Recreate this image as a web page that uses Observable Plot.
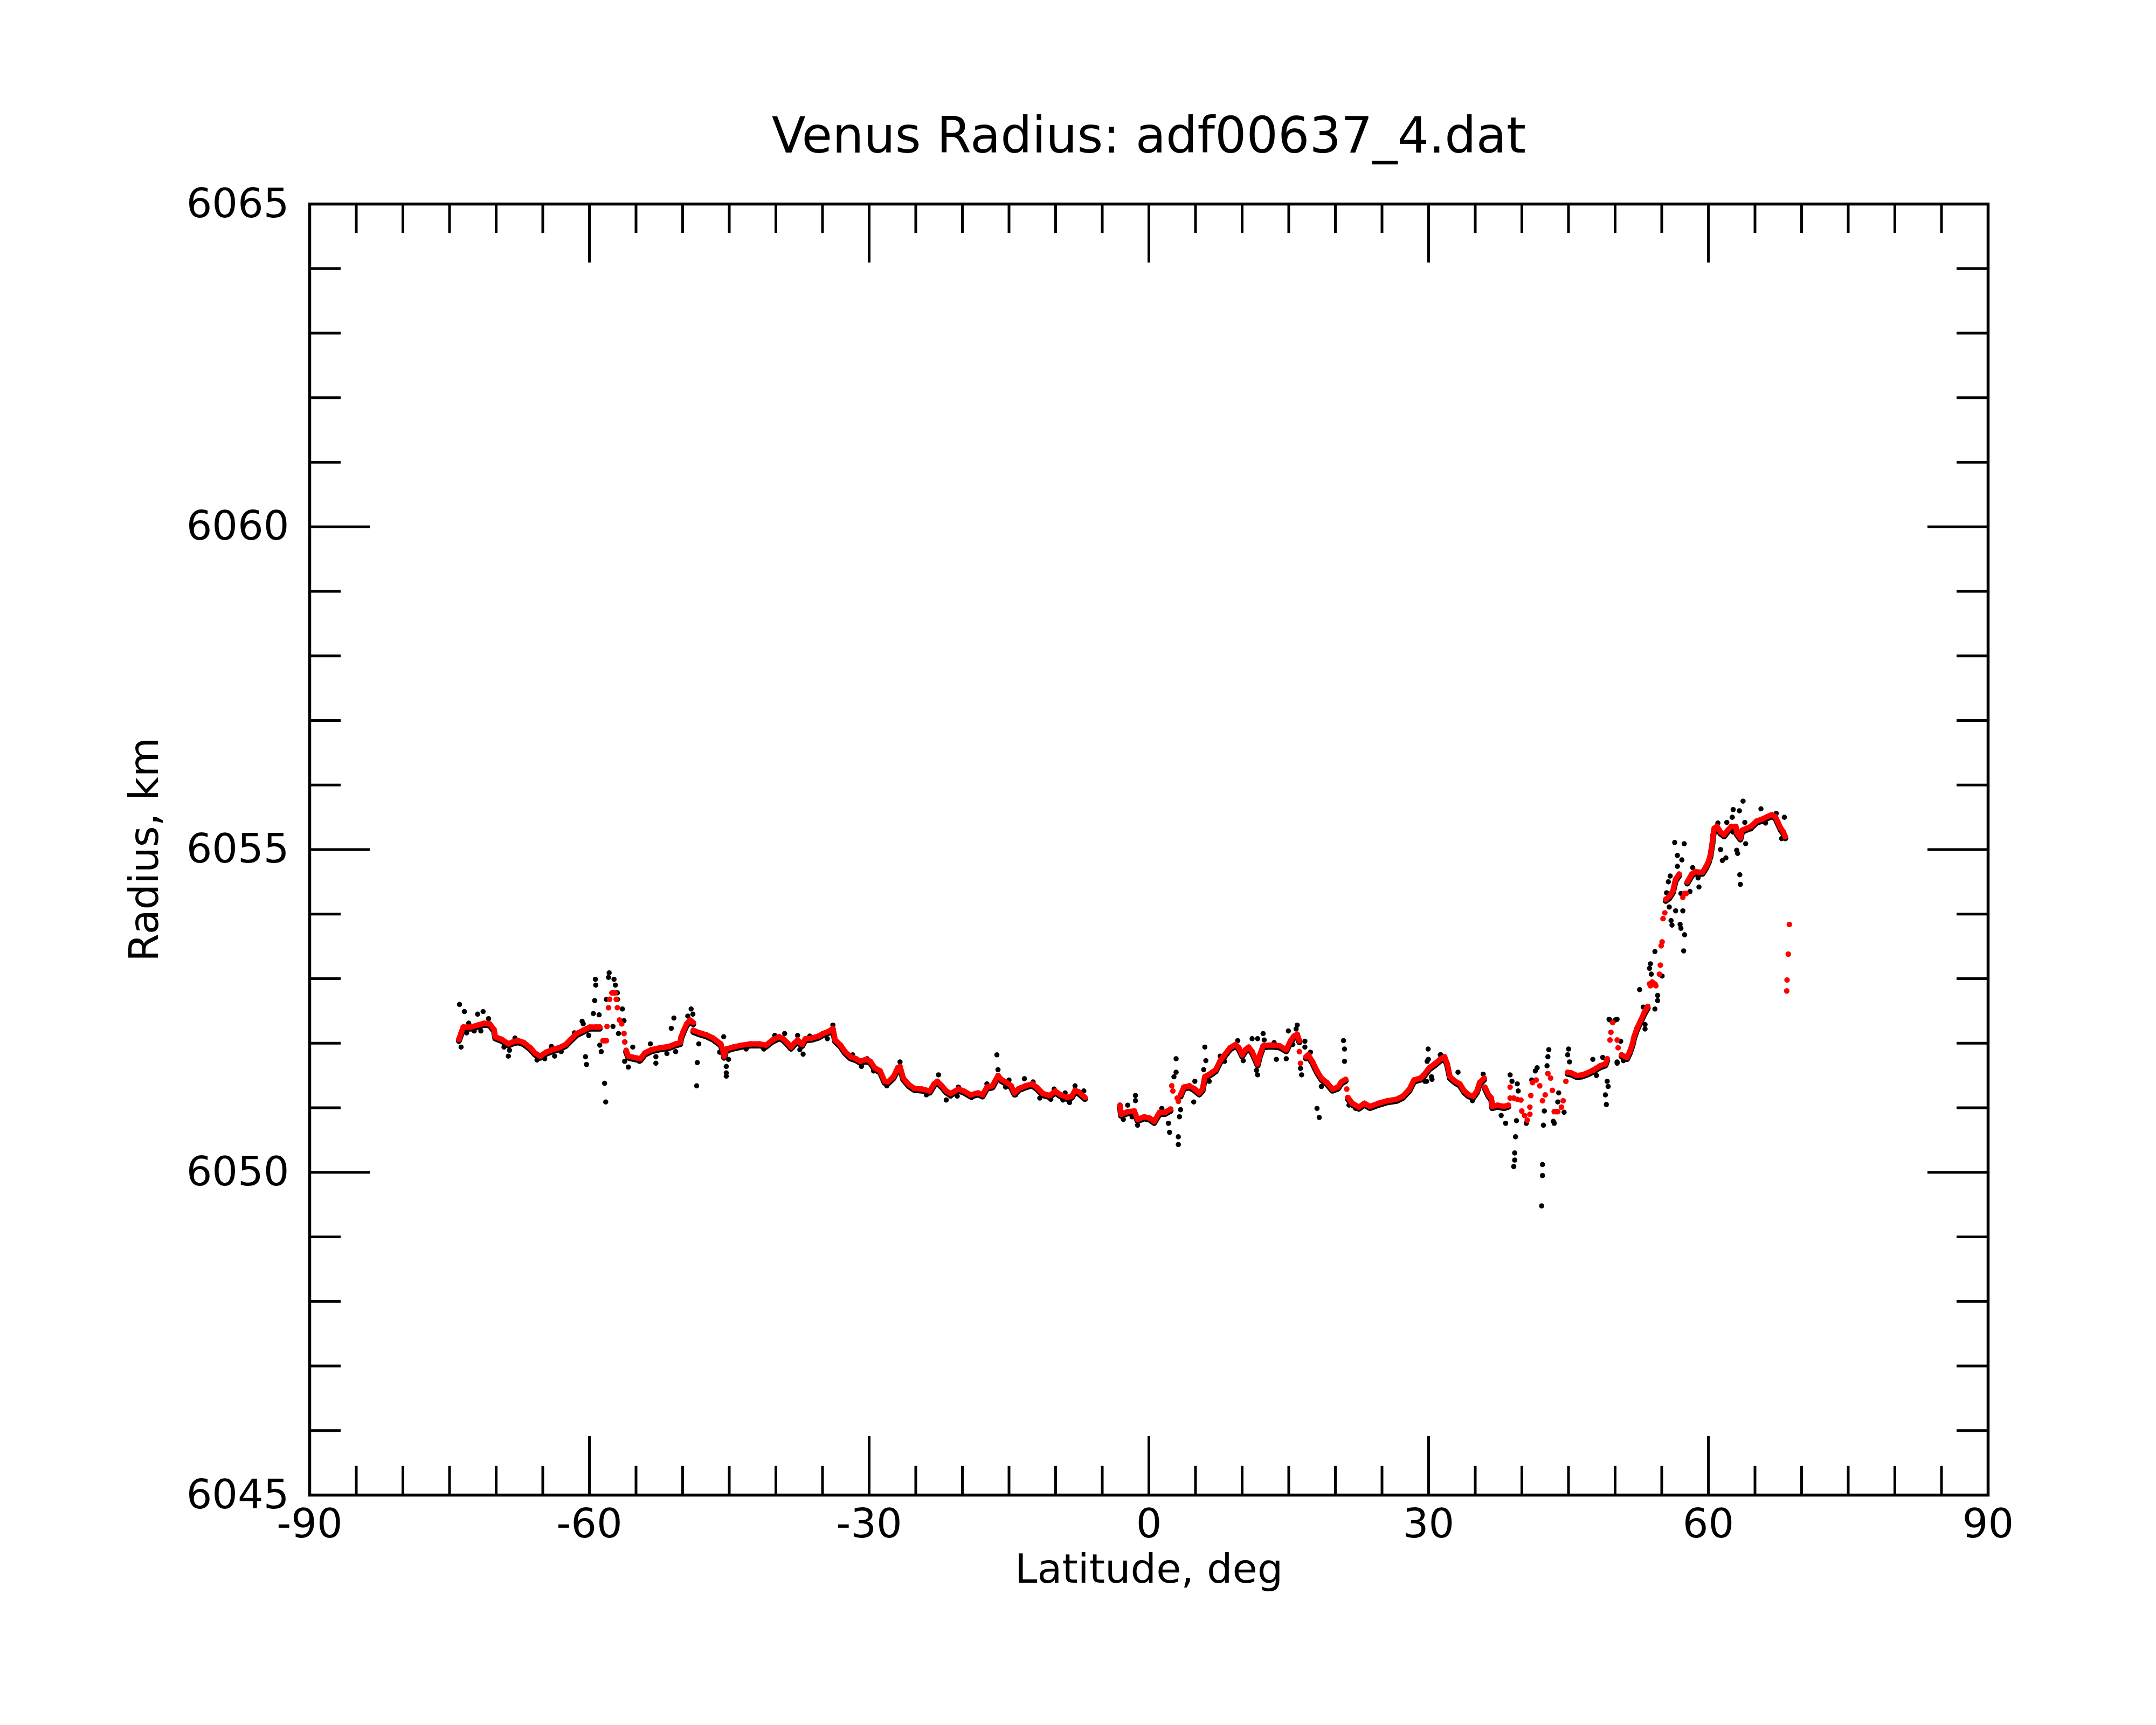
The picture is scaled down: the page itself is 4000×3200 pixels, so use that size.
<!DOCTYPE html>
<html><head><meta charset="utf-8">
<script src="https://cdn.jsdelivr.net/npm/d3@7"></script>
<script src="https://cdn.jsdelivr.net/npm/@observablehq/plot@0.6"></script>
<style>body{margin:0;background:#fff;} #chart svg{display:block;}</style>
</head><body><div id="chart"></div>
<script>
const title = "Venus Radius: adf00637_4.dat";
const xTitle = "Latitude, deg";
const yTitle = "Radius, km";
const xLabels = [-90, -60, -30, 0, 30, 60, 90];
const xMajor = [-60, -30, 0, 30, 60];
const xMinor = [-85,-80,-75,-70,-65,-55,-50,-45,-40,-35,-25,-20,-15,-10,-5,5,10,15,20,25,35,40,45,50,55,65,70,75,80,85];
const yLabels = [6045, 6050, 6055, 6060, 6065];
const yMajor = [6050, 6055, 6060];
const yMinor = [6046,6047,6048,6049,6051,6052,6053,6054,6056,6057,6058,6059,6061,6062,6063,6064];

// smoothed (red) radius: continuous runs, null = break
const redLineLat = [
-74.00,-73.76,-73.53,-72.70,-71.99,-71.28,-70.69,-70.22,-70.10,-69.40,-68.69,-68.22,-67.63,-67.04,-66.33,-65.85,-65.27,-64.67,-63.97,-63.26,-62.55,-62.08,-61.37,-60.66,-59.95,-59.25,-58.89,null,
-56.06,-55.82,-55.23,-54.52,-54.05,-53.34,-52.40,-51.45,-50.75,-50.27,-50.16,-49.92,-49.57,-49.21,-48.86,null,
-48.86,-48.15,-47.44,-46.73,-45.91,-45.67,-45.55,-45.32,-44.61,-43.66,-42.72,-41.77,-41.07,-40.36,-39.65,-39.20,-38.73,-38.38,-38.02,-37.67,-37.20,-36.84,-36.13,-35.42,-34.95,-34.24,-33.89,-33.65,-33.06,-32.59,-32.00,-31.41,-30.94,-30.35,-29.88,-29.40,-28.81,-28.34,-27.99,-27.40,-26.93,-26.69,-26.34,-25.75,-25.16,-24.33,-23.50,-23.03,-22.68,-22.20,-21.73,-21.26,-20.43,-19.84,-19.14,-18.31,-17.84,-17.37,-16.78,-16.18,-15.83,-15.24,-14.77,-14.41,-13.94,-13.23,-12.53,-12.05,-11.35,-10.64,-10.05,-9.46,-8.75,-8.28,-7.92,-7.57,-6.86,null,
-3.10,-2.98,-2.27,-1.56,-1.21,-0.50,0.09,0.56,1.15,1.74,2.33,null,
3.40,3.75,4.34,4.93,5.40,5.76,6.00,6.70,7.17,7.65,8.12,8.71,9.30,9.65,10.01,10.36,10.71,11.07,11.42,11.66,11.90,12.25,12.84,13.31,14.02,14.73,15.20,15.55,15.91,16.14,null,
16.85,17.09,17.56,18.03,18.50,19.09,19.69,20.28,20.63,21.10,null,
21.34,21.81,22.52,23.11,23.70,24.64,25.59,26.53,27.24,27.95,28.42,29.13,29.49,30.07,30.65,31.22,31.71,32.00,32.29,32.86,33.35,33.83,34.31,34.79,35.18,35.47,35.95,null,
36.04,36.43,36.72,36.82,37.39,38.07,38.55,null,
44.91,45.30,45.88,46.46,47.03,47.61,48.38,48.96,49.15,null,
50.70,50.80,51.28,51.57,51.86,52.05,52.34,52.73,53.11,53.50,null,
55.43,55.81,56.20,56.49,56.87,null,
57.74,58.22,58.61,58.99,59.38,59.76,60.05,60.25,60.34,60.44,60.53,60.63,60.92,61.31,61.69,62.08,62.46,62.94,63.04,63.43,63.62,64.10,64.58,65.16,65.74,66.32,66.80,67.19,67.47,67.76,68.05,68.25
];
const redLineR = [
6052.06,6052.16,6052.25,6052.25,6052.28,6052.31,6052.30,6052.21,6052.10,6052.06,6051.99,6052.02,6052.04,6052.01,6051.93,6051.85,6051.80,6051.86,6051.90,6051.93,6051.98,6052.05,6052.15,6052.20,6052.25,6052.25,6052.25,null,
6051.89,6051.80,6051.78,6051.76,6051.85,6051.90,6051.93,6051.95,6051.99,6052.01,6052.10,6052.19,6052.30,6052.36,6052.32,null,
6052.20,6052.16,6052.13,6052.08,6051.99,6051.89,6051.80,6051.91,6051.94,6051.97,6051.99,6051.99,6051.97,6052.05,6052.10,6052.07,6052.00,6051.94,6052.00,6052.05,6051.98,6052.07,6052.08,6052.11,6052.15,6052.19,6052.23,6052.05,6051.97,6051.87,6051.79,6051.76,6051.72,6051.75,6051.72,6051.62,6051.57,6051.41,6051.40,6051.48,6051.62,6051.64,6051.46,6051.36,6051.30,6051.29,6051.26,6051.37,6051.41,6051.34,6051.26,6051.22,6051.29,6051.26,6051.20,6051.23,6051.20,6051.32,6051.34,6051.50,6051.44,6051.39,6051.34,6051.23,6051.30,6051.34,6051.37,6051.32,6051.22,6051.19,6051.26,6051.20,6051.16,6051.18,6051.27,6051.25,6051.16,null,
6051.04,6050.90,6050.94,6050.95,6050.82,6050.86,6050.84,6050.79,6050.93,6050.93,6050.98,null,
6051.20,6051.32,6051.34,6051.29,6051.23,6051.29,6051.48,6051.54,6051.59,6051.73,6051.82,6051.93,6051.98,6051.93,6051.82,6051.90,6051.94,6051.87,6051.76,6051.68,6051.82,6051.96,6051.97,6051.97,6051.96,6051.90,6052.04,6052.11,6052.14,6052.04,null,
6051.79,6051.82,6051.71,6051.57,6051.46,6051.39,6051.29,6051.32,6051.40,6051.44,null,
6051.16,6051.07,6051.01,6051.07,6051.02,6051.07,6051.11,6051.13,6051.18,6051.29,6051.43,6051.46,6051.51,6051.62,6051.68,6051.75,6051.79,6051.68,6051.48,6051.41,6051.37,6051.26,6051.20,6051.18,6051.26,6051.39,6051.46,null,
6051.32,6051.20,6051.15,6051.02,6051.04,6051.02,6051.04,null,
6051.55,6051.54,6051.50,6051.51,6051.54,6051.58,6051.65,6051.68,6051.76,null,
6051.82,6051.81,6051.78,6051.87,6051.99,6052.11,6052.23,6052.35,6052.47,6052.57,null,
6054.23,6054.27,6054.36,6054.54,6054.62,null,
6054.50,6054.62,6054.66,6054.65,6054.65,6054.74,6054.83,6054.94,6055.03,6055.12,6055.24,6055.33,6055.36,6055.27,6055.23,6055.30,6055.36,6055.36,6055.26,6055.18,6055.30,6055.33,6055.36,6055.44,6055.47,6055.51,6055.54,6055.51,6055.42,6055.33,6055.27,6055.20
];
// smoothed (red) isolated points
const redSpotLat = [-58.54,-58.36,-58.18,-58.11,-57.95,-57.83,-57.59,-57.41,-57.24,-57.12,-57.00,-56.77,-56.53,-56.29,-56.22,
2.45,2.57,3.04,3.16,16.14,16.26,21.22,
38.74,38.74,39.13,39.51,39.90,39.99,40.29,40.58,40.86,40.86,40.96,41.15,41.54,41.92,42.21,42.50,42.79,43.08,43.27,43.47,43.66,43.85,44.24,44.43,44.72,
49.45,49.55,49.74,50.22,50.32,
53.79,53.69,53.98,54.27,54.37,54.75,54.85,54.94,55.04,55.14,55.33,57.26,57.45,57.64,
68.69,68.57,68.44,68.40];
const redSpotR = [6052.04,6052.04,6052.04,6052.26,6052.55,6052.68,6052.78,6052.78,6052.78,6052.68,6052.55,6052.36,6052.30,6052.15,6052.02,
6051.34,6051.26,6051.15,6051.10,6051.87,6051.69,6051.29,
6051.32,6051.15,6051.15,6051.13,6051.12,6050.95,6050.88,6050.81,6050.90,6051.01,6051.19,6051.39,6051.43,6051.34,6051.11,6051.20,6051.53,6051.46,6051.27,6050.94,6050.94,6050.94,6051.01,6051.11,6051.41,
6052.05,6052.17,6052.32,6052.05,6051.93,
6052.89,6052.92,6052.95,6052.92,6052.89,6053.07,6053.21,6053.51,6053.57,6053.93,6054.02,6054.26,6054.32,6054.32,
6053.84,6053.38,6052.98,6052.81];

// raw (black) measurements
const blackLat = [
-73.93,-73.41,-73.76,-73.17,-72.94,-71.99,-71.40,-70.81,-71.64,-72.35,-69.16,-68.69,-68.57,-67.98,-65.62,-64.79,-64.08,-63.73,-63.02,-61.61,-60.78,-60.07,-60.66,-59.36,-59.32,-59.43,-59.58,-58.96,-60.42,-60.31,-58.37,-58.25,-58.73,-58.89,-57.88,-57.95,-57.36,-57.21,-57.00,-58.18,-56.98,-56.46,-56.29,-57.47,-56.88,-56.18,-56.22,-55.82,-55.35,-54.64,-53.46,-52.87,-52.87,-51.22,-50.94,-51.69,-50.75,-49.09,-48.90,-49.45,-48.27,-48.43,-48.50,-45.60,-45.32,-45.32,-45.32,-45.08,-46.03,-43.19,-41.30,-40.12,-39.06,
-37.08,-37.43,-37.67,-36.37,-34.48,-33.89,-31.77,-30.82,-30.23,-29.52,-28.11,-26.69,-23.86,-22.56,-21.73,-21.26,-20.43,-20.55,-19.02,-17.37,-16.30,-16.18,-15.36,-15.00,-14.30,-13.35,-12.41,-11.70,-10.52,-10.16,-8.98,-9.22,-8.51,-7.92,-6.98,
-2.74,-2.27,-1.44,-1.44,-1.80,-1.21,1.39,2.10,2.22,3.16,3.16,3.28,3.40,2.92,2.92,2.69,4.81,4.93,6.00,6.11,5.88,6.47,7.65,8.12,9.53,10.12,11.07,11.66,11.66,11.54,12.25,12.37,13.43,13.67,14.73,14.96,15.91,15.79,15.44,16.73,16.73,16.38,16.26,17.33,18.03,18.27,18.50,20.87,20.98,20.98,21.46,22.17,29.95,29.84,30.31,29.60,31.25,
29.97,29.78,30.36,31.32,33.15,34.70,35.85,38.26,37.78,38.74,38.94,39.32,39.23,39.23,39.13,39.51,39.61,39.42,40.48,41.64,41.44,41.06,42.12,42.21,42.21,42.31,42.41,42.89,42.79,42.70,43.47,43.37,43.95,43.85,44.53,45.01,44.91,45.11,47.61,48.00,48.67,49.15,49.25,48.96,49.06,50.21,49.35,50.21,50.89,50.60,
56.39,57.41,56.68,57.16,56.68,58.32,55.91,55.71,55.52,55.81,56.49,57.26,57.06,58.03,58.90,58.99,56.00,56.10,56.97,57.06,57.45,57.35,54.27,53.79,53.69,53.88,55.04,52.63,54.56,54.56,54.27,53.02,53.21,53.21,50.03,49.45,50.22,51.67,50.90,
61.02,61.98,62.66,63.33,63.72,62.56,61.31,61.88,61.50,63.04,63.14,64.00,63.91,65.64,67.28,68.15,67.86,63.37,63.43,62.66,60.73,64.58,66.13,60.25
];
const blackR = [
6052.60,6052.49,6051.94,6052.16,6052.31,6052.45,6052.49,6052.38,6052.19,6052.19,6051.94,6051.80,6051.89,6052.08,6051.74,6051.76,6051.95,6051.80,6051.87,6052.16,6052.34,6052.12,6052.30,6052.99,6052.90,6052.66,6052.46,6052.44,6051.79,6051.67,6051.38,6051.09,6051.87,6051.97,6053.09,6053.02,6052.99,6052.90,6052.78,6052.68,6052.68,6052.53,6052.35,6052.26,6052.15,6052.02,6051.72,6051.63,6051.94,6051.72,6051.99,6051.79,6051.69,6052.23,6052.39,6051.84,6051.87,6052.53,6052.45,6052.42,6051.99,6051.70,6051.34,6052.10,6051.64,6051.54,6051.49,6051.75,6051.86,6051.91,6051.91,6052.12,6052.15,
6051.83,6051.90,6052.12,6052.11,6052.07,6052.28,6051.82,6051.64,6051.76,6051.57,6051.34,6051.71,6051.20,6051.51,6051.12,6051.18,6051.32,6051.18,6051.16,6051.37,6051.82,6051.59,6051.32,6051.43,6051.20,6051.45,6051.40,6051.15,6051.13,6051.29,6051.23,6051.12,6051.08,6051.34,6051.26,
6050.82,6051.04,6051.19,6051.11,6050.86,6050.73,6050.99,6050.76,6050.62,6050.55,6050.43,6050.86,6050.97,6051.76,6051.55,6051.48,6051.09,6051.41,6051.94,6051.73,6051.59,6051.41,6051.80,6051.72,6052.04,6051.73,6052.07,6052.07,6051.51,6051.58,6052.15,6052.05,6052.01,6051.75,6051.76,6052.19,6052.28,6052.22,6051.98,6052.03,6051.94,6051.51,6051.61,6051.86,6050.99,6050.85,6051.33,6052.04,6051.91,6051.72,6051.04,6050.99,6051.91,6051.72,6051.48,6051.41,6051.82,
6051.75,6051.41,6051.44,6051.82,6051.55,6051.11,6051.52,6050.76,6050.88,6051.51,6051.41,6050.55,6050.30,6050.19,6050.09,6051.37,6051.26,6050.80,6050.76,6051.62,6051.57,6051.43,6049.48,6050.12,6049.95,6050.73,6050.95,6051.90,6051.79,6051.65,6050.76,6050.79,6051.23,6051.09,6050.93,6051.91,6051.82,6051.71,6051.75,6051.50,6051.78,6051.41,6051.33,6051.20,6051.05,6051.71,6052.37,6052.37,6051.73,6052.03,
6055.11,6055.09,6054.91,6054.84,6054.74,6054.72,6054.59,6054.50,6054.33,6054.11,6054.05,6054.05,6054.32,6054.35,6054.56,6054.42,6053.90,6053.83,6053.84,6053.78,6053.68,6053.43,6053.42,6053.23,6053.16,6053.07,6053.04,6052.83,6052.74,6052.66,6052.53,6052.56,6052.29,6052.22,6052.36,6052.36,6051.69,6051.87,6051.75,
6055.41,6055.42,6055.62,6055.60,6055.75,6055.50,6055.00,6054.87,6054.83,6054.99,6054.94,6055.09,6055.42,6055.63,6055.56,6055.50,6055.17,6054.61,6054.46,6055.27,6055.33,6055.32,6055.41,6054.88
];

const redLine = redLineLat.map((lat, i) => ({lat, r: redLineR[i]}));
const redSpots = redSpotLat.map((lat, i) => ({lat, r: redSpotR[i]}));
const black = blackLat.map((lat, i) => ({lat, r: blackR[i]}));

const W = 4000, H = 3200, mL = 574, mR = 312, mT = 378, mB = 427;
const iw = W - mL - mR, ih = H - mT - mB;
const tk = {stroke: "black", strokeWidth: 5};

const chart = Plot.plot({
  width: W, height: H,
  marginLeft: mL, marginRight: mR, marginTop: mT, marginBottom: mB,
  x: {domain: [-90, 90]},
  y: {domain: [6045, 6065]},
  style: {fontFamily: "DejaVu Sans", background: "white", color: "black", overflow: "visible"},
  marks: [
    Plot.dot(black, {x: "lat", y: "r", r: 4.8, fill: "black"}),
    Plot.line(redLine, {x: "lat", y: "r", stroke: "black", strokeWidth: 11, dy: 3}),
    Plot.line(redLine, {x: "lat", y: "r", stroke: "#ff0000", strokeWidth: 10}),
    Plot.dot(redLine, {x: "lat", y: "r", r: 5.2, fill: "#ff0000"}),
    Plot.dot(redSpots, {x: "lat", y: "r", r: 5.2, fill: "#ff0000"}),
    Plot.tickX(xMinor, {x: d => d, insetTop: ih - 54, ...tk}),
    Plot.tickX(xMinor, {x: d => d, insetBottom: ih - 54, ...tk}),
    Plot.tickX(xMajor, {x: d => d, insetTop: ih - 109, ...tk}),
    Plot.tickX(xMajor, {x: d => d, insetBottom: ih - 109, ...tk}),
    Plot.tickY(yMinor, {y: d => d, insetRight: iw - 58, ...tk}),
    Plot.tickY(yMinor, {y: d => d, insetLeft: iw - 58, ...tk}),
    Plot.tickY(yMajor, {y: d => d, insetRight: iw - 112, ...tk}),
    Plot.tickY(yMajor, {y: d => d, insetLeft: iw - 112, ...tk}),
    Plot.frame({stroke: "black", strokeWidth: 5.5}),
    Plot.axisX(xLabels, {anchor: "bottom", tickSize: 0, tickPadding: 25, fontSize: 75, tickFormat: d => String(d), label: null}),
    Plot.axisY(yLabels, {anchor: "left", tickSize: 0, tickPadding: 38, fontSize: 75, tickFormat: d => String(d), label: null}),
    Plot.text([title], {text: d => d, frameAnchor: "top", lineAnchor: "middle", textAnchor: "middle", dy: -125, fontSize: 92}),
    Plot.text([xTitle], {text: d => d, frameAnchor: "bottom", lineAnchor: "middle", textAnchor: "middle", dy: 138, fontSize: 75}),
    Plot.text([yTitle], {text: d => d, frameAnchor: "left", lineAnchor: "middle", textAnchor: "middle", dx: -306, rotate: -90, fontSize: 75})
  ]
});
document.getElementById("chart").appendChild(chart);
</script>
</body></html>
